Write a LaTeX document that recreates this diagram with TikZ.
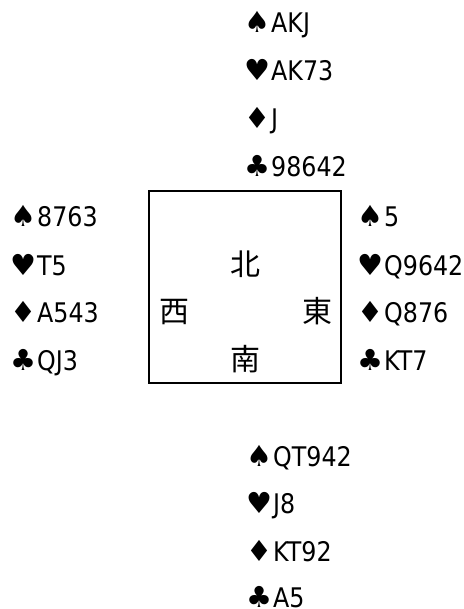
\documentclass[tikz,border=0pt]{standalone}
\usepackage{fontspec}
\setmainfont{DejaVu Sans}
\newfontfamily\cjkfont{Noto Sans CJK SC}
\newfontfamily\suitfont{DejaVu Sans}
\newfontfamily\handfont[FakeStretch=0.88]{DejaVu Sans}
\newcommand{\st}[1]{{\suitfont\fontsize{29pt}{29pt}\selectfont #1}\hspace{1pt}}
\begin{document}
\begin{tikzpicture}[x=1pt,y=-1pt,
  hand/.style={anchor=base west,inner sep=0pt,font=\handfont\fontsize{27pt}{27pt}\selectfont},
  dir/.style={anchor=base,inner sep=0pt,font=\cjkfont\fontsize{30pt}{30pt}\selectfont},
  table/.style={draw=black,line width=1.5pt,minimum width=192pt,minimum height=192pt,inner sep=0pt}]
\useasboundingbox[fill=white] (0,0) rectangle (463,609);
% table
\node[table] (box) at (245,287) {};
\node[dir] (north) at (245,275) {北};
\node[dir] (west) at (174,322) {西};
\node[dir] (east) at (317,322) {東};
\node[dir] (south) at (245,370) {南};
% North
\node[hand] (n1) at (244,33) {\st{♠}AKJ};
\node[hand] (n2) at (244,81) {\st{♥}AK73};
\node[hand] (n3) at (244,129) {\st{♦}J};
\node[hand] (n4) at (244,177) {\st{♣}98642};
% West
\node[hand] (w1) at (10,227) {\st{♠}8763};
\node[hand] (w2) at (10,275) {\st{♥}T5};
\node[hand] (w3) at (10,322) {\st{♦}A543};
\node[hand] (w4) at (10,370) {\st{♣}QJ3};
% East
\node[hand] (e1) at (357,227) {\st{♠}5};
\node[hand] (e2) at (357,275) {\st{♥}Q9642};
\node[hand] (e3) at (357,322) {\st{♦}Q876};
\node[hand] (e4) at (357,370) {\st{♣}KT7};
% South
\node[hand] (s1) at (246,466) {\st{♠}QT942};
\node[hand] (s2) at (246,513) {\st{♥}J8};
\node[hand] (s3) at (246,561) {\st{♦}KT92};
\node[hand] (s4) at (246,607) {\st{♣}A5};
\end{tikzpicture}
\end{document}
